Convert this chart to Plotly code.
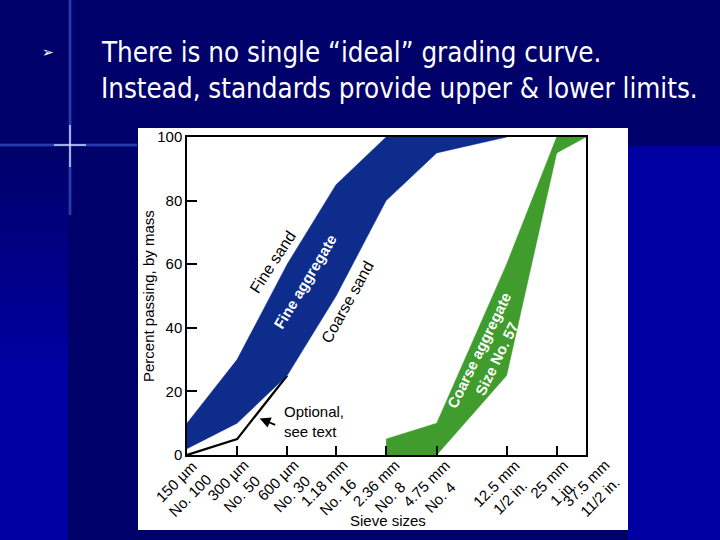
import math
import plotly.graph_objects as go

# ---------------- data ----------------
sieve_mm = [0.15, 0.3, 0.6, 1.18, 2.36, 4.75, 12.5, 25, 37.5]
sieve_labels = ["150 µm<br>No. 100", "300 µm<br>No. 50", "600 µm<br>No. 30",
                "1.18 mm<br>No. 16", "2.36 mm<br>No. 8", "4.75 mm<br>No. 4",
                "12.5 mm<br>1/2 in.", "25 mm<br>1 in.", "37.5 mm<br>11/2 in."]

fine_sizes = [0.15, 0.3, 0.6, 1.18, 2.36, 4.75, 12.5]
fine_upper = [10, 30, 60, 85, 100, 100, 100]
fine_lower = [2, 10, 25, 50, 80, 95, 100]

coarse_sizes = [2.36, 4.75, 12.5, 25, 37.5]
coarse_upper = [5, 10, 60, 100, 100]
coarse_lower = [0, 0, 25, 95, 100]

optional_sizes = [0.15, 0.3, 0.6]
optional_values = [0, 5, 25]

y_ticks = [0, 20, 40, 60, 80, 100]

# ---------------- geometry helpers ----------------
W, H = 720, 540
L, R, T, B = 187, 134, 137, 85
PW, PH = W - L - R, H - T - B


def px(x):
    return (x - L) / PW


def py(y):
    return (H - B - y) / PH


NAVY = "#00006a"
BRIGHT = "#0000a2"
BLUE = "#0e2c8c"
GREEN = "#3f9c2d"
FONT = "Liberation Sans, Arial, Helvetica, sans-serif"
TITLE_FONT = "DejaVu Sans Condensed, DejaVu Sans"

fig = go.Figure()

# optional line (under band)
fig.add_trace(go.Scatter(x=optional_sizes, y=optional_values, mode="lines",
                         line=dict(color="black", width=2.2), hoverinfo="skip"))

fig.add_trace(go.Scatter(x=fine_sizes + fine_sizes[::-1],
                         y=fine_upper + fine_lower[::-1],
                         fill="toself", fillcolor=BLUE, mode="lines",
                         line=dict(color=BLUE, width=0.5), hoverinfo="skip"))

fig.add_trace(go.Scatter(x=coarse_sizes + coarse_sizes[::-1],
                         y=coarse_upper + coarse_lower[::-1],
                         fill="toself", fillcolor=GREEN, mode="lines",
                         line=dict(color=GREEN, width=0.5), hoverinfo="skip"))

shapes = []
# bright blue background areas
shapes.append(dict(type="rect", xref="paper", yref="paper", layer="below",
                   x0=px(628), x1=px(720), y0=py(540), y1=py(146),
                   fillcolor=BRIGHT, line=dict(width=0)))
# left strip with vertical gradient
steps = 12
for i in range(steps):
    y0 = 160 + i * 18
    frac = min(1.0, (i + 1) / steps)
    b = int(0x6a + (0xa2 - 0x6a) * frac)
    shapes.append(dict(type="rect", xref="paper", yref="paper", layer="below",
                       x0=px(0), x1=px(68), y0=py(y0 + 18), y1=py(y0),
                       fillcolor=f"rgb(0,0,{b})", line=dict(width=0)))
shapes.append(dict(type="rect", xref="paper", yref="paper", layer="below",
                   x0=px(0), x1=px(68), y0=py(540), y1=py(376),
                   fillcolor=BRIGHT, line=dict(width=0)))
# white picture box
shapes.append(dict(type="rect", xref="paper", yref="paper", layer="below",
                   x0=px(138), x1=px(628), y0=py(530), y1=py(128),
                   fillcolor="white", line=dict(width=0)))
# lens flare
for a, w in [(0.18, 4), (0.45, 1.5)]:
    shapes.append(dict(type="line", xref="paper", yref="paper", layer="below",
                       x0=px(70), x1=px(70), y0=py(0), y1=py(215),
                       line=dict(color=f"rgba(80,130,255,{a})", width=w)))
    shapes.append(dict(type="line", xref="paper", yref="paper", layer="below",
                       x0=px(0), x1=px(137), y0=py(145), y1=py(145),
                       line=dict(color=f"rgba(80,130,255,{a})", width=w)))
shapes.append(dict(type="line", xref="paper", yref="paper", layer="below",
                   x0=px(54), x1=px(86), y0=py(145), y1=py(145),
                   line=dict(color="rgba(220,230,255,0.9)", width=1.5)))
shapes.append(dict(type="line", xref="paper", yref="paper", layer="below",
                   x0=px(70), x1=px(70), y0=py(125), y1=py(167),
                   line=dict(color="rgba(220,230,255,0.9)", width=1.5)))

ann = []
# slide text
ann.append(dict(xref="paper", yref="paper", x=px(40), y=py(52), text="➢",
                showarrow=False, xanchor="left", yanchor="middle",
                font=dict(family="DejaVu Sans", size=14, color="white")))
ann.append(dict(xref="paper", yref="paper", x=px(99), y=py(52),
                text="There is no single “ideal” grading curve.",
                showarrow=False, xanchor="left", yanchor="middle",
                font=dict(family=TITLE_FONT, size=27.5, color="white")))
ann.append(dict(xref="paper", yref="paper", x=px(99), y=py(88),
                text="Instead, standards provide upper & lower limits.",
                showarrow=False, xanchor="left", yanchor="middle",
                font=dict(family=TITLE_FONT, size=27.5, color="white")))

# axis titles
ann.append(dict(xref="paper", yref="paper", x=px(148), y=py(296),
                text="Percent passing, by mass", textangle=-90,
                showarrow=False, xanchor="center", yanchor="middle",
                font=dict(family=FONT, size=15, color="black")))
ann.append(dict(xref="paper", yref="paper", x=px(388), y=py(520),
                text="Sieve sizes", showarrow=False,
                xanchor="center", yanchor="middle",
                font=dict(family=FONT, size=15, color="black")))

# x tick labels (rotated, two lines, upper end anchored near each tick)
label_shift = [0, 0, 0, 0, 2, 2, 2, 0, 12]
for s, lab, sh in zip(sieve_mm, sieve_labels, label_shift):
    ann.append(dict(x=math.log10(s), xref="x", y=py(454), yref="paper",
                    xshift=31 + sh, text=lab, textangle=-45, align="center",
                    showarrow=False, xanchor="right", yanchor="top",
                    font=dict(family=FONT, size=15, color="black")))


def lx(v):
    return math.log10(v)


ann.append(dict(x=lx(0.49), y=60.5, text="Fine sand", textangle=-57,
                showarrow=False, font=dict(family=FONT, size=16, color="black")))
ann.append(dict(x=lx(0.77), y=54.5, text="<b>Fine aggregate</b>", textangle=-59,
                showarrow=False, font=dict(family=FONT, size=15, color="white")))
ann.append(dict(x=lx(1.39), y=48.2, text="Coarse sand", textangle=-61,
                showarrow=False, font=dict(family=FONT, size=16, color="black")))
ann.append(dict(x=lx(9.7), y=31.5, text="<b>Coarse aggregate<br>Size No. 57</b>",
                textangle=-64, showarrow=False,
                font=dict(family=FONT, size=15, color="white")))
ann.append(dict(xref="paper", yref="paper", x=px(282), y=py(421),
                text="Optional,<br>see text", showarrow=False, align="left",
                xanchor="left", yanchor="middle",
                font=dict(family=FONT, size=15, color="black")))
ann.append(dict(x=lx(0.41), y=11.5, text="", showarrow=True, ax=17, ay=7,
                arrowhead=2, arrowsize=1.2, arrowwidth=1.8, arrowcolor="black"))

fig.update_layout(
    width=W, height=H,
    margin=dict(l=L, r=R, t=T, b=B, pad=0),
    paper_bgcolor=NAVY, plot_bgcolor="white",
    showlegend=False, shapes=shapes, annotations=ann,
    font=dict(family=FONT, color="black"),
)
fig.update_xaxes(type="log", range=[math.log10(sieve_mm[0]), math.log10(sieve_mm[-1])],
                 tickvals=sieve_mm, showticklabels=False,
                 ticks="inside", ticklen=9, tickwidth=1.5, tickcolor="black",
                 showline=True, linecolor="black", linewidth=1.5, mirror=True,
                 showgrid=False, zeroline=False)
fig.update_yaxes(range=[0, 100], tickvals=y_ticks,
                 ticks="inside", ticklen=10, tickwidth=1.5, tickcolor="black",
                 showline=True, linecolor="black", linewidth=1.5, mirror=True,
                 showgrid=False, zeroline=False,
                 tickfont=dict(family=FONT, size=15, color="black"))

fig.write_html("out.html", config={"displayModeBar": False})

with open("out.html", encoding="utf-8") as f:
    html = f.read()
html = html.replace("<head>", "<head><style>html,body{margin:0;padding:0;overflow:hidden;}</style>", 1)
with open("out.html", "w", encoding="utf-8") as f:
    f.write(html)
